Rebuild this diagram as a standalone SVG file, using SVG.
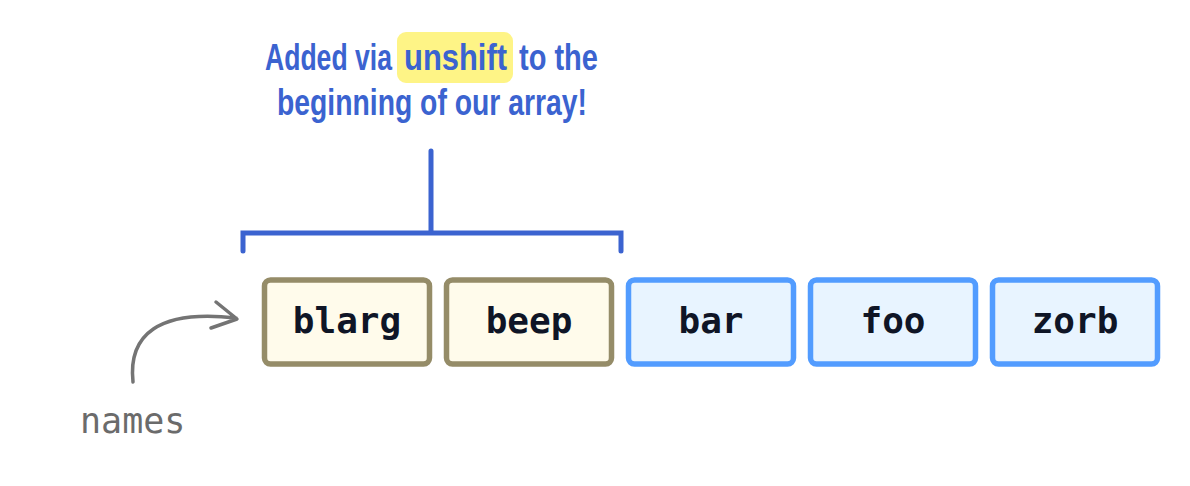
<svg xmlns="http://www.w3.org/2000/svg" width="1190" height="486" viewBox="0 0 1190 486">
<style>
.box-y{fill:#fffbeb;stroke:#958c68;stroke-width:5.5}
.box-b{fill:#e8f4ff;stroke:#529cff;stroke-width:5.5}
.lbl{font-family:"DejaVu Sans Mono","Liberation Mono",monospace;font-weight:bold;font-size:36px;fill:#0f1526;text-anchor:middle}
.note{font-family:"Liberation Sans","Noto Sans",sans-serif;font-weight:bold;font-size:37px;fill:#3b63d0}
.bracket{fill:none;stroke:#3b63d0;stroke-width:5;stroke-linecap:round;stroke-linejoin:miter}
.ptr{fill:none;stroke:#747474;stroke-width:3.5;stroke-linecap:round;stroke-linejoin:round}
</style>
<rect width="1190" height="486" fill="#ffffff"/>
<g id="annotation">
<rect x="397" y="32" width="116" height="51" rx="9" fill="#fef486"/>
<g transform="scale(0.75,1)">
<text class="note" x="353.3" y="70" textLength="169.3" lengthAdjust="spacingAndGlyphs">Added via</text>
<text class="note" x="538.7" y="70" textLength="137.3" lengthAdjust="spacingAndGlyphs">unshift</text>
<text class="note" x="692" y="70" textLength="105.3" lengthAdjust="spacingAndGlyphs">to the</text>
<text class="note" x="369.3" y="115" textLength="413.3" lengthAdjust="spacingAndGlyphs">beginning of our array!</text>
</g>
</g>
<g id="connectors">
<path class="bracket" d="M243 251 V233 H621 V251 M431 233 V151"/>
<path class="ptr" d="M133 382 C 128 335 158 309 236 318 M216 302 L237 319 L211 328"/>
</g>
<g id="names">
<text x="80" y="433" font-family="DejaVu Sans Mono,Liberation Mono,monospace" font-size="35" fill="#6b6b6b">names</text>
</g>
<g id="node-blarg">
<rect class="box-y" x="264.5" y="280" width="165" height="84" rx="6"/>
<text class="lbl" x="347" y="333">blarg</text>
</g>
<g id="node-beep">
<rect class="box-y" x="446.5" y="280" width="165" height="84" rx="6"/>
<text class="lbl" x="529" y="333">beep</text>
</g>
<g id="node-bar">
<rect class="box-b" x="628.5" y="280" width="165" height="84" rx="6"/>
<text class="lbl" x="711" y="333">bar</text>
</g>
<g id="node-foo">
<rect class="box-b" x="810.5" y="280" width="165" height="84" rx="6"/>
<text class="lbl" x="893" y="333">foo</text>
</g>
<g id="node-zorb">
<rect class="box-b" x="992.5" y="280" width="165" height="84" rx="6"/>
<text class="lbl" x="1075" y="333">zorb</text>
</g>
</svg>
